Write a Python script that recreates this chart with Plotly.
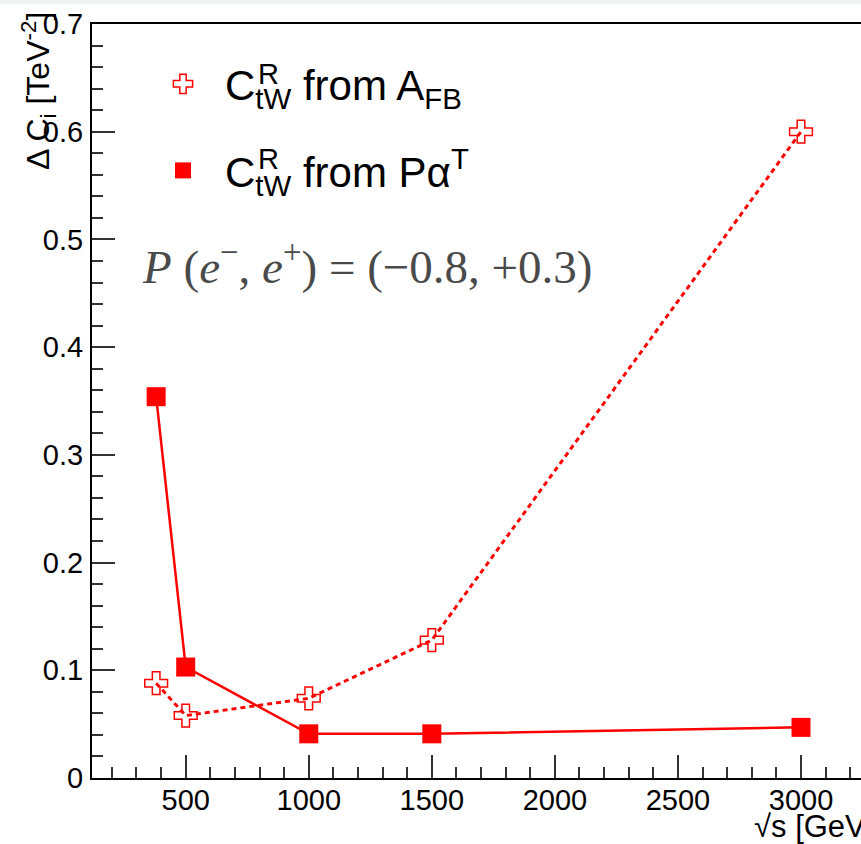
import plotly.graph_objects as go

# Centre-of-mass energies [GeV]
sqrt_s = [380, 500, 1000, 1500, 3000]
# Expected precision on C_tW^R from the forward-backward asymmetry
delta_afb = [0.088, 0.058, 0.074, 0.128, 0.600]
# Expected precision on C_tW^R from the top polarisation observable P alpha^T
delta_pat = [0.354, 0.103, 0.041, 0.041, 0.047]

y_ticks = [0, 0.1, 0.2, 0.3, 0.4, 0.5, 0.6, 0.7]
y_tick_text = ["0", "0.1", "0.2", "0.3", "0.4", "0.5", "0.6", "0.7"]
x_ticks = [500, 1000, 1500, 2000, 2500, 3000]

RED = "#ff0000"
FONT = "Liberation Sans, Arial, sans-serif"

W, H = 861, 844
ML, MR, MT, MB = 92, 0, 24, 66
PW, PH = W - ML - MR, H - MT - MB


def px(xp):
    return (xp - ML) / PW


def py(yp):
    return 1 - (yp - MT) / PH


fig = go.Figure()

# data curves
fig.add_trace(go.Scatter(
    x=sqrt_s, y=delta_afb, mode="lines+markers", showlegend=False,
    line=dict(color=RED, width=3, dash="5px,4px"),
    marker=dict(symbol="cross-open", size=19, color=RED,
                line=dict(color=RED, width=1.5)),
))
fig.add_trace(go.Scatter(
    x=sqrt_s, y=delta_pat, mode="lines+markers", showlegend=False,
    line=dict(color=RED, width=2.5),
    marker=dict(symbol="square", size=19, color=RED, line=dict(width=0)),
))

# legend entries (markers only)
fig.add_trace(go.Scatter(
    x=[None], y=[None], mode="markers", legendgroup="a",
    name="C<sub>tW</sub> from A<sub>FB</sub>",
    marker=dict(symbol="cross-open", size=19, color=RED,
                line=dict(color=RED, width=1.5)),
))
fig.add_trace(go.Scatter(
    x=[None], y=[None], mode="markers", legendgroup="b",
    name="C<sub>tW</sub> from P\u03b1<sup>T</sup>",
    marker=dict(symbol="square", size=19, color=RED, line=dict(width=0)),
))

annotations = [
    # superscripts stacked over the tW subscripts
    dict(text="R", x=px(268), y=py(74), xref="paper", yref="paper",
         xanchor="center", yanchor="middle",
         showarrow=False, font=dict(size=29, color="black", family=FONT)),
    dict(text="R", x=px(268), y=py(159), xref="paper", yref="paper",
         xanchor="center", yanchor="middle",
         showarrow=False, font=dict(size=29, color="black", family=FONT)),
    # beam polarisation
    dict(text="<i>P</i> (<i>e</i><sup>\u2212</sup>, <i>e</i><sup>+</sup>) = (\u22120.8, +0.3)",
         x=px(140), y=py(263), xref="paper", yref="paper",
         xanchor="left", yanchor="middle", showarrow=False,
         font=dict(size=47, color="#4a4a4a",
                   family="Liberation Serif, Times New Roman, serif")),
    # y-axis title
    dict(text="\u0394 C<sub>i</sub> [TeV<sup>-2</sup>]", textangle=-90,
         x=px(38), y=py(10), xref="paper", yref="paper",
         xanchor="center", yanchor="top", showarrow=False,
         font=dict(size=32, color="black", family=FONT)),
    # x-axis title
    dict(text="\u221as [GeV]", x=px(752), y=py(826),
         xref="paper", yref="paper", xanchor="left", yanchor="middle",
         showarrow=False, font=dict(size=31, color="black", family=FONT)),
]

shapes = [
    dict(type="rect", xref="paper", yref="paper", x0=-0.2, x1=1.2,
         y0=py(4), y1=py(-2), fillcolor="#eef2f2", line=dict(width=0),
         layer="below"),
]

fig.update_layout(
    width=W, height=H,
    margin=dict(l=ML, r=MR, t=MT, b=MB, pad=0),
    paper_bgcolor="white", plot_bgcolor="white",
    font=dict(family=FONT, size=29, color="black"),
    annotations=annotations, shapes=shapes,
    legend=dict(x=px(141), y=py(50), xanchor="left", yanchor="top",
                bgcolor="rgba(0,0,0,0)", borderwidth=0,
                font=dict(size=42, family=FONT, color="black"),
                itemwidth=74, traceorder="grouped", tracegroupgap=29),
    showlegend=True,
)

fig.update_xaxes(
    range=[119.3, 3243.8], showgrid=False, zeroline=False,
    showline=True, linecolor="black", linewidth=2, mirror=True,
    ticks="inside", ticklen=23, tickwidth=1.5, tickcolor="#333",
    tickvals=x_ticks, tickfont=dict(size=29, family=FONT, color="black"),
    ticklabelstandoff=-5,
    minor=dict(dtick=100, tick0=0, ticks="inside", ticklen=11,
               tickwidth=1.5, tickcolor="#333"),
)
fig.update_yaxes(
    range=[0, 0.7], showgrid=False, zeroline=False,
    showline=True, linecolor="black", linewidth=2, mirror=False,
    ticks="inside", ticklen=23, tickwidth=1.5, tickcolor="#333",
    tickvals=y_ticks, ticktext=y_tick_text,
    tickfont=dict(size=29, family=FONT, color="black"),
    ticklabelstandoff=1,
    minor=dict(dtick=0.02, tick0=0, ticks="inside", ticklen=11,
               tickwidth=1.5, tickcolor="#333"),
)

fig.write_html("out.html")
